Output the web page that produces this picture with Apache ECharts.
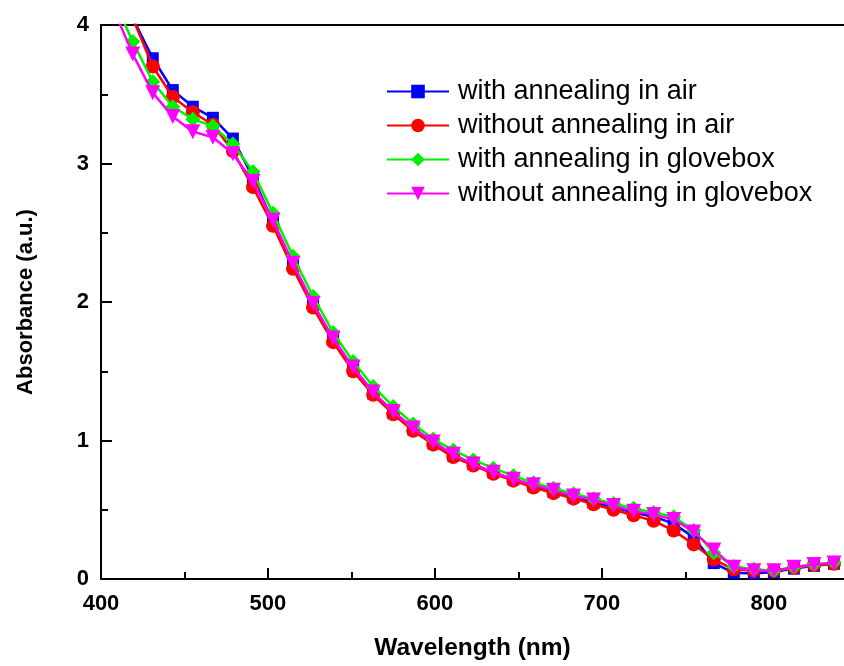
<!DOCTYPE html>
<html>
<head>
<meta charset="utf-8">
<script src="https://cdn.jsdelivr.net/npm/echarts@6/dist/echarts.min.js"></script>
<style>html,body{margin:0;padding:0;background:#fff}#c{width:844px;height:666px}</style>
</head>
<body>
<div id="c"></div>
<script>
const wavelengths = [407,419,431,443,455,467,479,491,503,515,527,539,551,563,575,587,599,611,623,635,647,659,671,683,695,707,719,731,743,755,767,779,791,803,815,827,839];
const withAnnealingAir = [4.45,4.05,3.76,3.53,3.41,3.33,3.18,2.90,2.58,2.27,1.98,1.73,1.52,1.34,1.20,1.08,0.98,0.89,0.83,0.77,0.72,0.67,0.63,0.59,0.55,0.52,0.48,0.45,0.40,0.30,0.115,0.045,0.04,0.05,0.075,0.095,0.11];
const withoutAnnealingAir = [4.40,4.05,3.70,3.48,3.37,3.28,3.09,2.83,2.55,2.24,1.96,1.71,1.50,1.33,1.19,1.07,0.97,0.88,0.82,0.76,0.71,0.66,0.62,0.58,0.54,0.50,0.46,0.42,0.35,0.25,0.14,0.07,0.06,0.06,0.08,0.10,0.11];
const withAnnealingGlovebox = [4.20,3.88,3.59,3.41,3.32,3.27,3.14,2.94,2.64,2.33,2.04,1.78,1.57,1.39,1.245,1.12,1.01,0.93,0.86,0.80,0.745,0.695,0.655,0.615,0.58,0.545,0.51,0.48,0.45,0.35,0.19,0.09,0.07,0.06,0.085,0.105,0.12];
const withoutAnnealingGlovebox = [4.13,3.79,3.51,3.34,3.23,3.19,3.07,2.87,2.59,2.28,1.99,1.74,1.53,1.35,1.21,1.09,0.99,0.90,0.83,0.77,0.72,0.68,0.64,0.60,0.57,0.53,0.49,0.465,0.43,0.34,0.21,0.085,0.06,0.06,0.085,0.105,0.115];
const seriesNames = ['with annealing in air','without annealing in air','with annealing in glovebox','without annealing in glovebox'];
const xTickLabels = [400,500,600,700,800];
const xMinorTicks = [450,550,650,750];
const yTickLabels = [0,1,2,3,4];

const FONT = '"Liberation Sans", Arial, sans-serif';
const colors = ['#0000ff','#ff0000','#00f000','#ff00ff'];
const symbols = ['rect','circle','diamond','triangle'];
const symbolSizes = [12,14,15,15];
const seriesValues = [withAnnealingAir, withoutAnnealingAir, withAnnealingGlovebox, withoutAnnealingGlovebox];

const chart = echarts.init(document.getElementById('c'), null, {renderer:'canvas'});
const series = seriesValues.map((vals, i) => ({
  name: seriesNames[i],
  type: 'line',
  xAxisIndex: 0,
  data: wavelengths.map((w, j) => [w, vals[j]]),
  symbol: symbols[i],
  symbolSize: symbolSizes[i],
  symbolRotate: i === 3 ? 180 : 0,
  showAllSymbol: true,
  clip: true,
  itemStyle: {color: colors[i]},
  lineStyle: {color: colors[i], width: 2.5},
  z: 2 + i
}));

const axisLabelStyle = {fontFamily: FONT, fontWeight: 'bold', fontSize: 22, color: '#000'};
const blackLine = {color: '#000', width: 2};
chart.setOption({
  animation: false,
  backgroundColor: '#fff',
  grid: {left: 101, top: 25, bottom: 84, right: 0, show: false},
  legend: {
    orient: 'vertical', left: 381, top: 73, itemWidth: 62, itemHeight: 17, itemGap: 7,
    textStyle: {fontFamily: FONT, fontSize: 27, color: '#000', lineHeight: 27, padding: [0,0,0,4]},
    data: seriesNames
  },
  xAxis: [{
    type: 'value', min: 400, max: 845, interval: 100, position: 'bottom',
    name: 'Wavelength (nm)', nameLocation: 'middle', nameGap: 57,
    nameTextStyle: {fontFamily: FONT, fontWeight: 'bold', fontSize: 24.5, color: '#000'},
    axisLine: {show: true, onZero: false, lineStyle: blackLine},
    axisTick: {show: true, inside: true, length: 11, lineStyle: blackLine, customValues: xTickLabels},
    axisLabel: {...axisLabelStyle, margin: 14, customValues: xTickLabels, formatter: v => String(v)},
    splitLine: {show: false}
  }, {
    type: 'value', min: 400, max: 845, position: 'top',
    axisLine: {show: true, onZero: false, lineStyle: blackLine},
    axisTick: {show: false}, axisLabel: {show: false}, splitLine: {show: false}
  }, {
    type: 'value', min: 400, max: 845, position: 'bottom', offset: 0,
    axisLine: {show: false, onZero: false},
    axisTick: {show: true, inside: true, length: 7, lineStyle: blackLine, customValues: xMinorTicks},
    axisLabel: {show: false}, splitLine: {show: false}
  }],
  yAxis: [{
    type: 'value', min: 0, max: 4, interval: 1,
    name: 'Absorbance (a.u.)', nameLocation: 'middle', nameGap: 64,
    nameTextStyle: {fontFamily: FONT, fontWeight: 'bold', fontSize: 22, color: '#000'},
    axisLine: {show: true, lineStyle: blackLine},
    axisTick: {show: true, inside: true, length: 11, lineStyle: blackLine},
    minorTick: {show: true, splitNumber: 2, length: 7, lineStyle: blackLine},
    axisLabel: {...axisLabelStyle, margin: 12, formatter: v => yTickLabels.includes(v) ? String(v) : ''},
    splitLine: {show: false}
  }],
  series: series
});
</script>
</body>
</html>
